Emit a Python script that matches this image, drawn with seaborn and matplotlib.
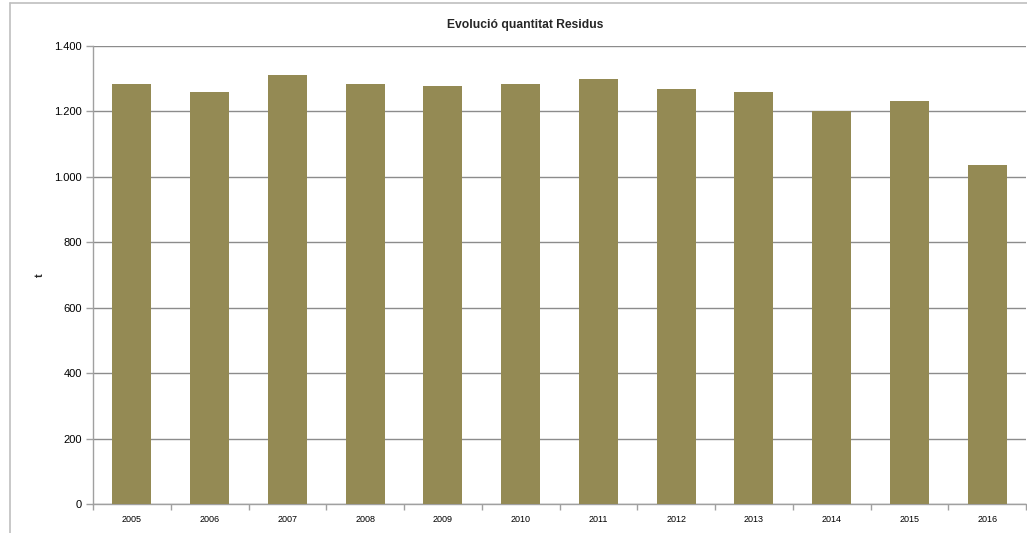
import matplotlib
matplotlib.use("Agg")
import matplotlib.pyplot as plt
from matplotlib.lines import Line2D
from matplotlib.ticker import FuncFormatter
import seaborn as sns
import pandas as pd

years = ["2005", "2006", "2007", "2008", "2009", "2010",
         "2011", "2012", "2013", "2014", "2015", "2016"]
tones = [1284, 1259, 1311, 1284, 1278, 1284, 1299, 1268, 1259, 1200, 1232, 1036]
y_ticks = [0, 200, 400, 600, 800, 1000, 1200, 1400]

df = pd.DataFrame({"any": years, "t": tones})

sns.set_theme(style="white")
plt.rcParams["font.family"] = ["Liberation Sans", "DejaVu Sans"]

fig = plt.figure(figsize=(10.27, 5.33), dpi=100)
ax = fig.add_axes([93 / 1027, 1 - 504 / 533, 933 / 1027, 458 / 533])

sns.barplot(data=df, x="any", y="t", color="#948A54", width=0.5,
            saturation=1, linewidth=0, edgecolor="none", ax=ax, zorder=3)

ax.set_ylim(0, 1400)
ax.set_xlim(-0.5, len(years) - 0.5)
ax.set_yticks(y_ticks)
ax.yaxis.set_major_formatter(FuncFormatter(lambda v, p: f"{int(v):,}".replace(",", ".")))
ax.grid(axis="y", color="#8C8C8C", linewidth=1.0, zorder=0)
ax.set_axisbelow(True)

for s in ["top", "right"]:
    ax.spines[s].set_visible(False)
for s in ["left", "bottom"]:
    ax.spines[s].set_color("#A0A0A0")
    ax.spines[s].set_linewidth(1)

ax.tick_params(axis="y", length=5, width=1, color="#A0A0A0", left=True,
               labelsize=8, pad=3, labelcolor="#000000")
ax.tick_params(axis="x", which="major", length=0, labelsize=6.5, pad=8,
               labelcolor="#000000")
ax.set_xticks([i - 0.5 for i in range(len(years) + 1)], minor=True)
ax.tick_params(axis="x", which="minor", length=4, width=1, color="#A0A0A0",
               bottom=True)

ax.set_xlabel("")
ax.set_ylabel("t", fontsize=8, fontweight="bold")
ax.yaxis.set_label_coords(-0.052, 0.5)

fig.text(525 / 1027, 1 - 25 / 533, "Evolució quantitat Residus",
         ha="center", va="center", fontsize=8.7, fontweight="bold")

# outer chart frame
fig.add_artist(Line2D([10 / 1027, 10 / 1027], [0, 1 - 3 / 533],
                      transform=fig.transFigure, color="#BFBFBF", linewidth=1.2))
fig.add_artist(Line2D([10 / 1027, 1], [1 - 3 / 533, 1 - 3 / 533],
                      transform=fig.transFigure, color="#BFBFBF", linewidth=1.2))

fig.savefig("out.png", dpi=100)
